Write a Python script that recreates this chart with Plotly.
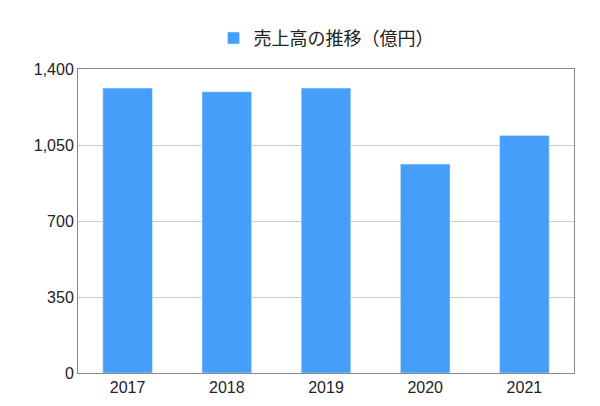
import plotly.graph_objects as go

years = ['2017', '2018', '2019', '2020', '2021']
sales = [1312, 1295, 1312, 962, 1094]
tick_vals = [0, 350, 700, 1050, 1400]
tick_text = ['0', '350', '700', '1,050', '1,400']

fig = go.Figure(go.Bar(
    x=years, y=sales, name='売上高の推移（億円）',
    marker_color='#459ffa', width=0.5, showlegend=True))

fig.update_layout(
    width=600, height=406,
    margin=dict(l=70, r=34, t=45, b=41),
    plot_bgcolor='white', paper_bgcolor='white',
    font=dict(family='Liberation Sans, Noto Sans CJK JP', size=16, color='#222'),
    legend=dict(orientation='h', x=0.5, xanchor='center', y=1.04, yanchor='bottom',
                font=dict(size=18, family='Noto Sans CJK JP')),
    xaxis=dict(showline=True, mirror=True, linecolor='#888', linewidth=1,
               ticks='', tickfont=dict(size=16)),
    yaxis=dict(range=[0, 1400], tickvals=tick_vals, ticktext=tick_text,
               showgrid=True, gridcolor='#ccc', showline=True, mirror=True,
               linecolor='#888', linewidth=1, tickfont=dict(size=16)),
)

fig.write_html("out.html")
